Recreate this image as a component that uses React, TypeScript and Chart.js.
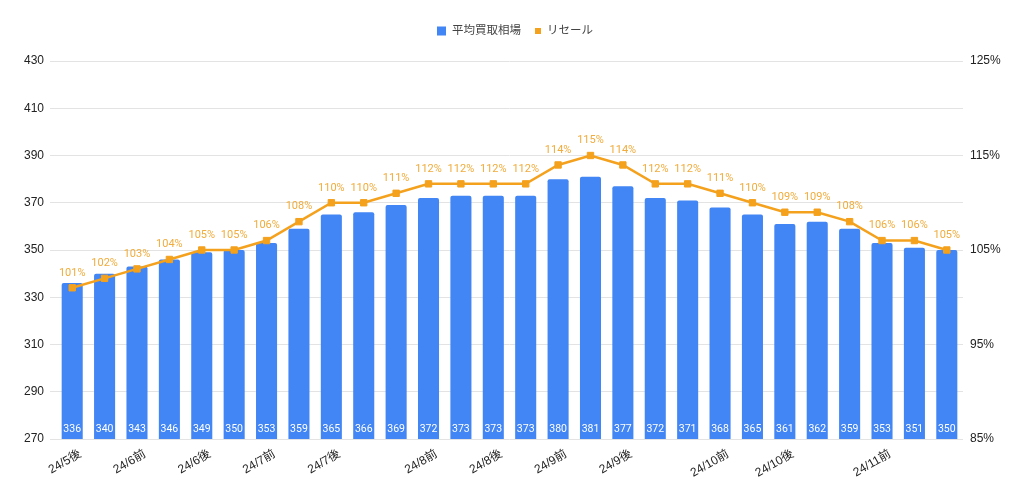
import React, { useEffect, useRef } from "react";
import { Chart, registerables } from "chart.js";

Chart.register(...registerables);

const categories = [
  "24/5後", "", "24/6前", "", "24/6後", "", "24/7前", "", "24/7後", "", "",
  "24/8前", "", "24/8後", "", "24/9前", "", "24/9後", "", "", "24/10前", "",
  "24/10後", "", "", "24/11前", "", "",
];
const avgPrice = [
  336, 340, 343, 346, 349, 350, 353, 359, 365, 366, 369, 372, 373, 373, 373,
  380, 381, 377, 372, 371, 368, 365, 361, 362, 359, 353, 351, 350,
];
const resale = [
  101, 102, 103, 104, 105, 105, 106, 108, 110, 110, 111, 112, 112, 112, 112,
  114, 115, 114, 112, 112, 111, 110, 109, 109, 108, 106, 106, 105,
];
const leftTicks = [270, 290, 310, 330, 350, 370, 390, 410, 430];
const rightTickLabels = [85, 95, 105, 115, 125];

const BLUE = "#4285f4";
const ORANGE = "#f4a11d";
const FONT = 'Roboto, "Noto Sans CJK JP", sans-serif';
const AXFONT = '"Liberation Sans", Arial, "Noto Sans CJK JP", sans-serif';

const labelPlugin = {
  id: "valueLabels",
  afterDatasetsDraw(chart: any) {
    const ctx = chart.ctx;
    ctx.save();
    ctx.textAlign = "center";
    ctx.textBaseline = "middle";
    const bottom = chart.chartArea.bottom;
    chart.data.datasets.forEach((ds: any, di: number) => {
      const meta = chart.getDatasetMeta(di);
      meta.data.forEach((el: any, i: number) => {
        if (ds.type === "bar") {
          ctx.font = `10.5px ${FONT}`;
          ctx.fillStyle = "#ffffff";
          ctx.fillText(String(ds.data[i]), el.x, bottom - 10);
        } else {
          ctx.font = `11px ${FONT}`;
          ctx.fillStyle = "#f0ac3c";
          ctx.fillText(ds.data[i] + "%", el.x, el.y - 15);
        }
      });
    });
    ctx.restore();
  },
};

const legendPlugin = {
  id: "customLegend",
  afterDraw(chart: any) {
    const ctx = chart.ctx;
    ctx.save();
    ctx.font = `11.5px ${FONT}`;
    ctx.textBaseline = "middle";
    const items = chart.data.datasets.map((ds: any) => ({
      label: ds.label,
      color: ds.type === "bar" ? ds.backgroundColor : ds.borderColor,
      box: ds.type === "bar" ? 9 : 6,
    }));
    const gap = 6;
    const spacing = 14;
    let total = 0;
    items.forEach((it: any, idx: number) => {
      total += it.box + gap + ctx.measureText(it.label).width;
      if (idx < items.length - 1) total += spacing;
    });
    let x = chart.width / 2 - total / 2 + 3;
    const y = 31;
    items.forEach((it: any) => {
      ctx.fillStyle = it.color;
      ctx.fillRect(x, y - it.box / 2, it.box, it.box);
      x += it.box + gap;
      ctx.fillStyle = "#444444";
      ctx.fillText(it.label, x, y);
      x += ctx.measureText(it.label).width + spacing;
    });
    ctx.restore();
  },
};

export default function App() {
  const ref = useRef<HTMLCanvasElement>(null);
  useEffect(() => {
    if (!ref.current) return;
    const chart = new Chart(ref.current, {
      data: {
        labels: categories,
        datasets: [
          {
            type: "bar",
            label: "平均買取相場",
            data: avgPrice,
            yAxisID: "y",
            backgroundColor: BLUE,
            borderRadius: { topLeft: 2, topRight: 2, bottomLeft: 0, bottomRight: 0 },
            borderSkipped: "bottom",
            barPercentage: 0.65,
            categoryPercentage: 1,
            order: 1,
          },
          {
            type: "line",
            label: "リセール",
            data: resale,
            yAxisID: "y1",
            borderColor: ORANGE,
            backgroundColor: ORANGE,
            borderWidth: 2.5,
            pointStyle: "rect",
            pointRadius: 4.5,
            pointBorderWidth: 1,
            pointBackgroundColor: ORANGE,
            pointBorderColor: ORANGE,
            order: 0,
          },
        ] as any,
      },
      options: {
        animation: false,
        responsive: false,
        layout: { padding: { top: 61, left: 0, right: 0, bottom: 0 } },
        plugins: {
          legend: { display: false },
          tooltip: { enabled: false },
        },
        scales: {
          x: {
            grid: { display: false },
            border: { display: false },
            ticks: {
              autoSkip: false,
              maxRotation: 30,
              minRotation: 30,
              color: "#222222",
              font: { family: AXFONT, size: 12 },
              padding: 0,
              labelOffset: 8,
            },
            afterFit: (s: any) => {
              s.height = 57;
            },
          },
          y: {
            position: "left",
            min: leftTicks[0],
            max: leftTicks[leftTicks.length - 1],
            afterBuildTicks: (s: any) => {
              s.ticks = leftTicks.map((v) => ({ value: v }));
            },
            grid: { color: "#e3e3e3", drawTicks: true, tickLength: 6, lineWidth: 1 },
            border: { display: false },
            ticks: {
              color: "#222222",
              font: { family: AXFONT, size: 12 },
              padding: 6,
            },
            afterFit: (s: any) => {
              s.width = 56;
            },
          },
          y1: {
            position: "right",
            min: 85,
            max: 125,
            afterBuildTicks: (s: any) => {
              s.ticks = rightTickLabels.map((v) => ({ value: v }));
            },
            grid: { display: false, drawTicks: false },
            border: { display: false },
            ticks: {
              color: "#222222",
              font: { family: AXFONT, size: 12 },
              padding: 7,
              callback: (v: any) => v + "%",
            },
            afterFit: (s: any) => {
              s.width = 61;
            },
          },
        },
      },
      plugins: [labelPlugin, legendPlugin],
    });
    return () => chart.destroy();
  }, []);
  return (
    <div style={{ position: "fixed", left: 0, top: 0, width: 1024, height: 496, background: "#fff" }}>
      <canvas ref={ref} width={1024} height={496} style={{ width: 1024, height: 496 }} />
    </div>
  );
}
